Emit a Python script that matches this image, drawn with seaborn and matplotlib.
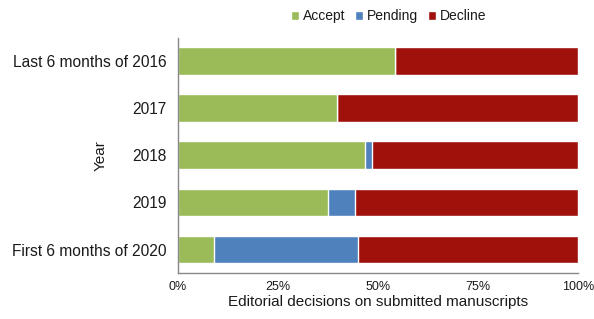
import numpy as np
import pandas as pd
import matplotlib
matplotlib.use("Agg")
import matplotlib.pyplot as plt
import seaborn as sns
from matplotlib.patches import Patch

years = ["Last 6 months of 2016", "2017", "2018", "2019", "First 6 months of 2020"]
accept = [54.2, 39.7, 46.8, 37.4, 9.1]
pending = [0.0, 0.0, 1.6, 6.8, 35.8]
decline = [45.8, 60.3, 51.6, 55.8, 55.1]

colors = {"Accept": "#9bbb59", "Pending": "#4f81bd", "Decline": "#a0110c"}

df = pd.DataFrame({"Year": years, "Accept": accept, "Pending": pending, "Decline": decline})
df["acc_pend"] = df["Accept"] + df["Pending"]
df["total"] = df["acc_pend"] + df["Decline"]

sns.set_style("white")
plt.rcParams["font.family"] = ["Liberation Sans", "DejaVu Sans"]
txt = "#1a1a1a"
plt.rcParams["text.color"] = txt
plt.rcParams["axes.labelcolor"] = txt
plt.rcParams["xtick.color"] = txt
plt.rcParams["ytick.color"] = txt

fig = plt.figure(figsize=(5.94, 3.19), dpi=100)
ax = fig.add_axes([0.2997, 0.144, 0.6739, 0.738])

# stacked by overdrawing cumulative totals
sns.barplot(data=df, y="Year", x="total", color=colors["Decline"], width=0.59,
            orient="h", ax=ax, saturation=1)
sns.barplot(data=df, y="Year", x="acc_pend", color=colors["Pending"], width=0.59,
            orient="h", ax=ax, saturation=1)
sns.barplot(data=df, y="Year", x="Accept", color=colors["Accept"], width=0.59,
            orient="h", ax=ax, saturation=1)

ax.set_xlim(0, 100)
ax.set_ylim(4.5, -0.5)
ax.set_xticks([0, 25, 50, 75, 100])
ax.set_xticklabels(["0%", "25%", "50%", "75%", "100%"], fontsize=9)
ax.tick_params(axis="y", labelsize=11.2, length=0, pad=8.5)
ax.tick_params(axis="x", length=0, pad=6)
ax.set_xlabel("Editorial decisions on submitted manuscripts", fontsize=11, labelpad=1)
ax.set_ylabel("Year", fontsize=11)
ax.yaxis.set_label_coords(-0.175, 0.5)

for s in ["top", "right"]:
    ax.spines[s].set_visible(False)
for s in ["left", "bottom"]:
    ax.spines[s].set_color("#888888")
    ax.spines[s].set_linewidth(1)

handles = [Patch(facecolor=colors[k], label=k) for k in ["Accept", "Pending", "Decline"]]
fig.legend(handles=handles, loc="upper center", bbox_to_anchor=(0.654, 1.01), ncol=3,
           frameon=False, fontsize=10, handlelength=0.6, handleheight=0.6,
           handletextpad=0.25, columnspacing=0.7)

fig.savefig("out.png", dpi=100)
